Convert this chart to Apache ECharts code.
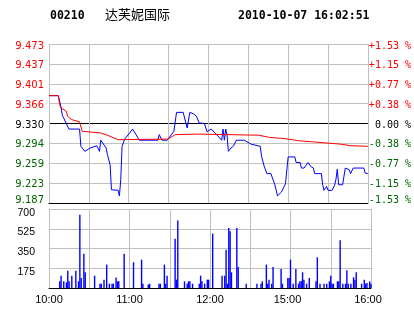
<!DOCTYPE html>
<html><head><meta charset="utf-8">
<script src="https://cdn.jsdelivr.net/npm/echarts@6/dist/echarts.min.js"></script>
<style>html,body{margin:0;padding:0;background:#fff}#c{width:414px;height:314px}</style>
</head><body><div id="c"></div>
<script>
// ---- data ----
const stockCode = '00210';
const stockName = '达芙妮国际';
const stamp = '2010-10-07 16:02:51';
const prevClose = 9.330;
const pctTicks = [-1.53, -1.1475, -0.765, -0.3825, 0, 0.3825, 0.765, 1.1475, 1.53];
const priceTickLabels = ['9.187','9.223','9.259','9.294','9.330','9.366','9.401','9.437','9.473'];
const pctTickLabels = ['-1.53 %','-1.15 %','-0.77 %','-0.38 %',' 0.00 %','+0.38 %','+0.77 %','+1.15 %','+1.53 %'];
const volTicks = [0, 175, 350, 525, 700];
const volTickLabels = ['', '175', '350', '525', '700'];
const timeTickMinutes = [0, 60, 120, 180, 240];
const timeTickLabels = ['10:00', '11:00', '12:00', '15:00', '16:00'];

const priceMinutes = [0,7,9,10,11,13,15,23,24,27,31,36,38,39,43,44,46,47,52,53,54,55,57,63,68,82,83,85,89,94,96,101,103,104,105,106,109,111,113,117,119,122,125,130,131,132,133,134,135,137,139,141,147,152,159,160,162,164,167,170,172,175,178,180,185,186,189,190,192,195,197,199,200,205,206,207,209,210,213,215,216,217,218,221,223,226,227,229,237,238,240];
const prices = [9.38,9.38,9.36,9.345,9.34,9.33,9.32,9.32,9.289,9.28,9.286,9.29,9.28,9.30,9.286,9.274,9.256,9.211,9.21,9.20,9.229,9.289,9.302,9.32,9.30,9.30,9.31,9.30,9.30,9.316,9.35,9.35,9.331,9.322,9.322,9.35,9.347,9.343,9.331,9.33,9.315,9.32,9.313,9.30,9.32,9.30,9.32,9.31,9.28,9.286,9.29,9.30,9.30,9.293,9.289,9.271,9.253,9.24,9.24,9.22,9.20,9.207,9.222,9.27,9.27,9.26,9.26,9.25,9.25,9.26,9.253,9.25,9.24,9.24,9.22,9.21,9.217,9.21,9.21,9.219,9.23,9.248,9.22,9.22,9.25,9.247,9.24,9.25,9.25,9.241,9.24];

const avgMinutes = [0,7,8,9,13,14,17,23,25,39,45,52,89,91,95,112,158,166,177,188,199,209,219,228,240];
const avgPrices = [9.38,9.38,9.364,9.358,9.352,9.343,9.337,9.333,9.316,9.313,9.308,9.301,9.302,9.304,9.310,9.311,9.309,9.305,9.303,9.299,9.297,9.295,9.293,9.290,9.289];

const volMinutes = [8,9,11,13,14,15,17,20,22,23,24,26,27,34,38,39,41,43,45,47,48,50,51,52,56,63,69,70,74,75,82,83,86,87,88,94,95,96,101,103,104,105,107,112,113,114,116,118,119,122,129,131,132,133,134,135,136,140,141,147,155,158,159,162,163,164,166,167,173,174,178,179,180,182,184,186,187,188,189,190,192,194,199,200,202,205,207,209,210,211,212,215,216,217,219,221,222,223,225,227,228,229,233,235,236,237,239,240];
const volumes = [59,109,59,50,153,59,109,153,59,650,89,304,139,109,38,38,74,207,38,38,38,92,59,59,304,228,251,38,30,38,38,38,207,38,109,437,74,597,59,38,59,59,38,38,109,59,38,74,74,482,109,109,340,38,532,502,139,532,186,38,38,38,59,207,38,74,38,186,168,38,89,89,251,38,168,38,59,59,139,74,38,89,59,272,38,38,38,59,109,38,38,59,59,423,38,38,157,38,38,95,74,139,38,74,38,44,59,38];

// ---- chart ----
const GRID = '#c0c0c0', RED = '#ff0000', GREEN = '#006400', BLACK = '#000000', BLUE = '#0000ff';
const priceTicks = pctTicks.map(p => prevClose * (1 + p / 100));
const PMIN = priceTicks[0], PMAX = priceTicks[priceTicks.length - 1];
const idxOf = (arr, v) => arr.findIndex(t => Math.abs(t - v) < 1e-7);
const styleKey = (i) => pctTicks[i] > 0 ? 'r' : (pctTicks[i] < 0 ? (i === 0 ? 'gb' : 'g') : 'k');
function rich(font, size) {
  const base = { fontFamily: font, fontSize: size };
  return {
    r: Object.assign({ color: RED, padding: [4, 0, 0, 0] }, base),
    k: Object.assign({ color: BLACK, padding: [3, 0, 0, 0] }, base),
    g: Object.assign({ color: GREEN, padding: [3, 0, 0, 0] }, base),
    gb: Object.assign({ color: GREEN, padding: [0, 0, 5, 0] }, base)
  };
}

const chart = echarts.init(document.getElementById('c'));
chart.setOption({
  animation: false,
  backgroundColor: '#fff',
  graphic: [
    { type: 'text', left: 50, top: 10, style: { text: stockCode, font: 'bold 11.5px "DejaVu Sans Mono"', fill: BLACK } },
    { type: 'text', left: 105, top: 8, style: { text: stockName, font: '13px "Noto Sans CJK SC"', fill: BLACK } },
    { type: 'text', left: 238, top: 10, style: { text: stamp, font: 'bold 11.5px "DejaVu Sans Mono"', fill: BLACK } }
  ],
  grid: [
    { left: 49, top: 44, width: 322, height: 159 },
    { left: 49, top: 209, width: 322, height: 79 }
  ],
  xAxis: [0, 1].map(g => ({
    type: 'value', gridIndex: g, min: 0, max: 240, interval: 30,
    axisLine: { show: true, lineStyle: { color: BLACK, width: 1 } },
    axisTick: { show: false },
    splitLine: { show: true, lineStyle: { color: GRID, width: 1 } },
    axisLabel: g === 0 ? { show: false } : {
      show: true, margin: 6,
      formatter: v => {
        const i = timeTickMinutes.indexOf(v);
        if (i < 0) return '';
        return '{' + (i >= 3 ? 's' : 't') + '|' + timeTickLabels[i] + '}';
      },
      rich: {
        t: { color: BLACK, fontFamily: 'Liberation Sans', fontSize: 11 },
        s: { color: BLACK, fontFamily: 'Liberation Sans', fontSize: 11, padding: [0, 6, 0, 0] }
      }
    }
  })),
  yAxis: [
    {
      type: 'value', gridIndex: 0, min: PMIN, max: PMAX, position: 'left',
      axisLine: { show: false }, axisTick: { show: false, customValues: priceTicks },
      splitLine: { show: true, lineStyle: { color: [BLACK, GRID, GRID, GRID, BLACK, GRID, GRID, GRID, GRID], width: 1 } },
      axisLabel: {
        show: true, margin: 5, customValues: priceTicks,
        formatter: v => { const i = idxOf(priceTicks, v); return i < 0 ? '' : '{' + styleKey(i) + '|' + priceTickLabels[i] + '}'; },
        rich: rich('DejaVu Sans', 10)
      }
    },
    {
      type: 'value', gridIndex: 0, min: PMIN, max: PMAX, position: 'right',
      axisLine: { show: false }, axisTick: { show: false, customValues: priceTicks },
      splitLine: { show: false },
      axisLabel: {
        show: true, margin: 1, customValues: priceTicks, align: 'left',
        formatter: v => { const i = idxOf(priceTicks, v); return i < 0 ? '' : '{' + styleKey(i) + '|' + pctTickLabels[i] + '}'; },
        rich: rich('DejaVu Sans Mono', 10)
      }
    },
    {
      type: 'value', gridIndex: 1, min: 0, max: 700, interval: 175, position: 'left',
      axisLine: { show: false }, axisTick: { show: false },
      splitLine: { show: true, lineStyle: { color: [BLACK, GRID, GRID, GRID, GRID], width: 1 } },
      axisLabel: {
        show: true, margin: 14,
        formatter: v => { const i = volTicks.indexOf(v); return i < 0 || !volTickLabels[i] ? '' : '{' + (v === 700 ? 'm' : 'v') + '|' + volTickLabels[i] + '}'; },
        rich: {
          v: { color: BLACK, fontFamily: 'Liberation Sans', fontSize: 10.5, padding: [7, 0, 0, 0] },
          m: { color: BLACK, fontFamily: 'Liberation Sans', fontSize: 10.5, padding: [8, 0, 0, 0] }
        }
      }
    }
  ],
  series: [
    {
      type: 'line', xAxisIndex: 0, yAxisIndex: 0, symbol: 'none',
      lineStyle: { color: BLUE, width: 1 },
      data: priceMinutes.map((m, i) => [m, prices[i]])
    },
    {
      type: 'line', xAxisIndex: 0, yAxisIndex: 0, symbol: 'none',
      lineStyle: { color: RED, width: 1 },
      data: avgMinutes.map((m, i) => [m, avgPrices[i]])
    },
    {
      type: 'bar', xAxisIndex: 1, yAxisIndex: 2, barWidth: 1.4,
      itemStyle: { color: BLUE },
      data: volMinutes.map((m, i) => [m, volumes[i]])
    }
  ]
});
</script>
</body></html>
